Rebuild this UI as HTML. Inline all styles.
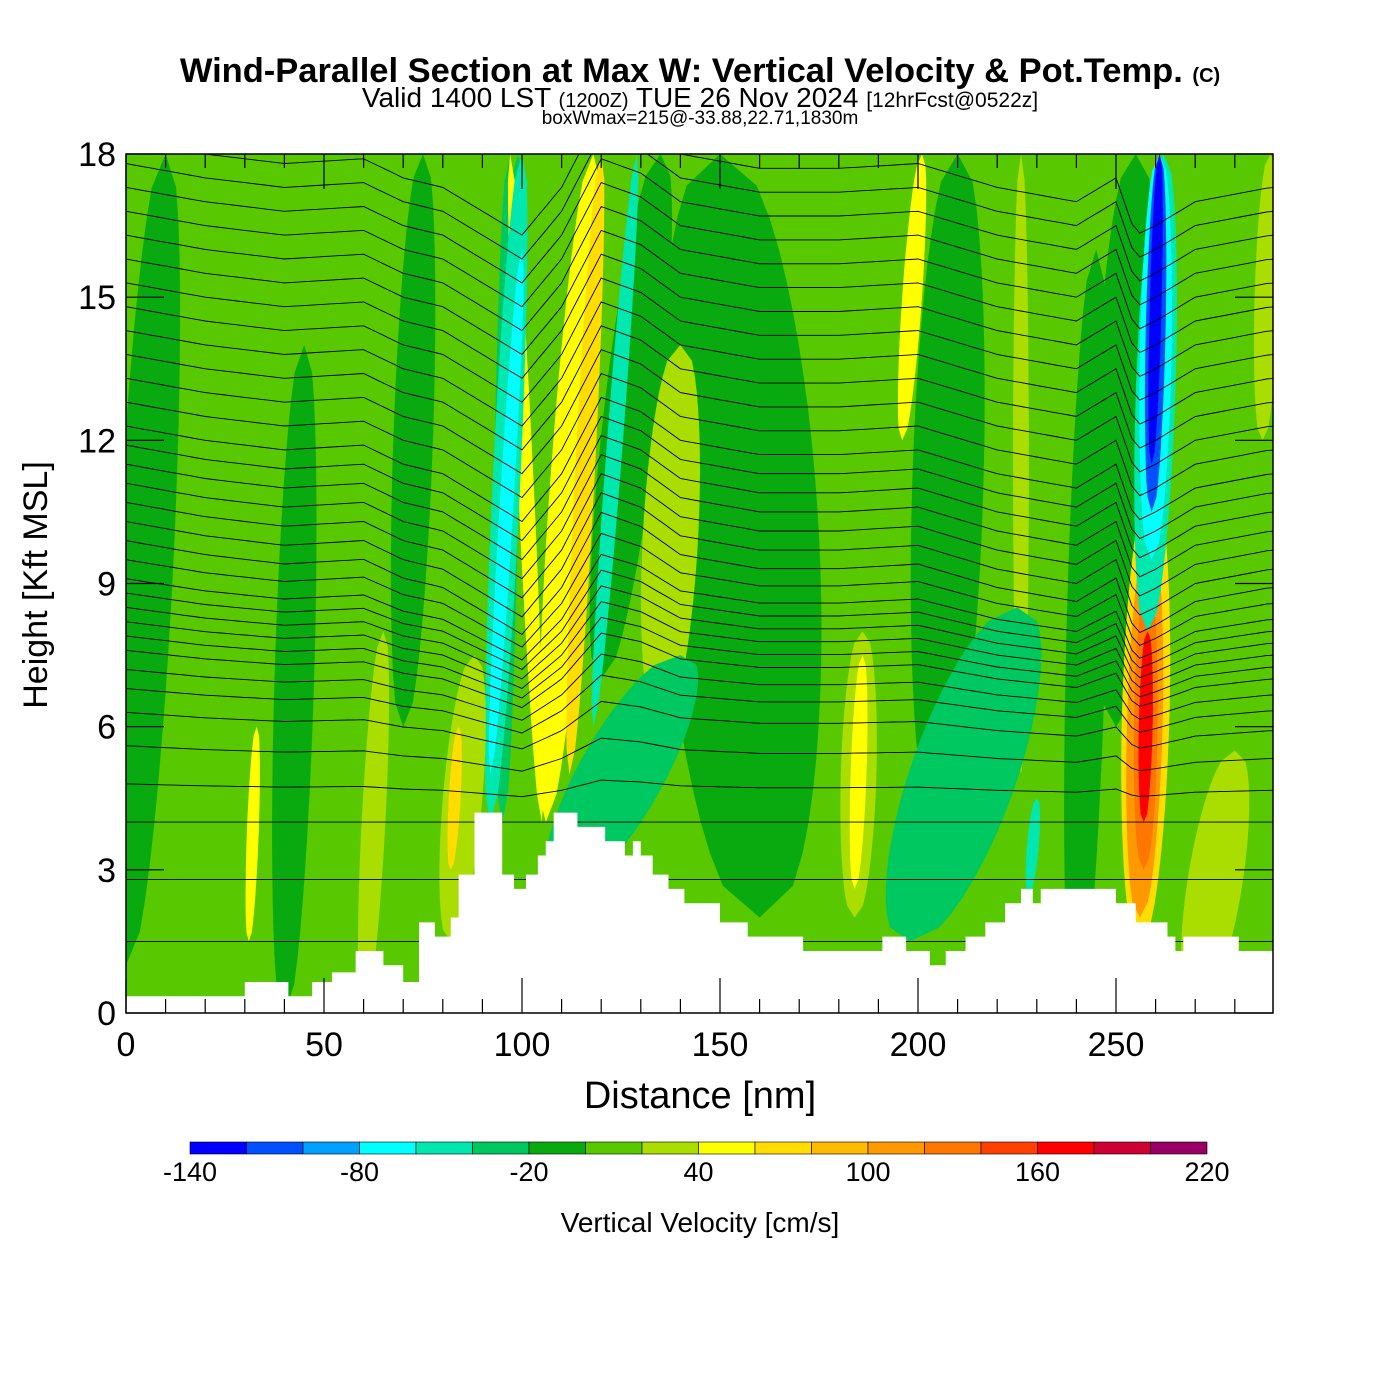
<!DOCTYPE html>
<html><head><meta charset="utf-8">
<style>
body{margin:0;background:#fff;}
svg{display:block;font-family:"Liberation Sans",sans-serif;}
</style></head>
<body>
<svg id="chart" width="1400" height="1400" viewBox="0 0 1400 1400">
<defs><clipPath id="plotclip"><rect x="126" y="154" width="1147" height="859"/></clipPath></defs>
<text x="700" y="82" text-anchor="middle" font-size="34.5" font-weight="bold">Wind-Parallel Section at Max W: Vertical Velocity &amp; Pot.Temp. <tspan font-size="20">(C)</tspan></text>
<text x="700" y="107" text-anchor="middle" font-size="28">Valid 1400 LST <tspan font-size="20">(1200Z)</tspan> TUE 26 Nov 2024 <tspan font-size="21">[12hrFcst@0522z]</tspan></text>
<text x="700" y="124" text-anchor="middle" font-size="19">boxWmax=215@-33.88,22.71,1830m</text>
<g id="plot" clip-path="url(#plotclip)">
<rect x="126" y="154" width="1147" height="859" fill="#58c800"/>
<g id="fills"></g><g id="contours"></g><g id="terrain"></g>
</g>
<rect x="126" y="154" width="1147" height="859" fill="none" stroke="#000" stroke-width="1.5"/>
<g id="axes"></g>
<g id="cbar"></g>
<text x="700" y="1108" text-anchor="middle" font-size="38">Distance [nm]</text>
<text transform="translate(47,585) rotate(-90)" text-anchor="middle" font-size="34">Height [Kft MSL]</text>
<text x="700" y="1232" text-anchor="middle" font-size="28">Vertical Velocity [cm/s]</text>
</svg>
<script>
// ---- data ----
const xTicks=[0,50,100,150,200,250];
const yTicks=[0,3,6,9,12,15,18];
const cbLevels=[-140,-120,-100,-80,-60,-40,-20,0,20,40,60,80,100,120,140,160,180,200,220];
const cbLabels=[-140,-80,-20,40,100,160,220];
const cbColors=["#0000ff","#0050ff","#00a0ff","#00ffff","#00e8b0","#00c860","#08aa10","#58c800","#aadd00","#ffff00","#ffdd00","#ffbb00","#ff9900","#ff7700","#ff4000","#ff0000","#cc0033","#990066"];
// terrain steps: distance (nm) and height (kft)
const terrX=[0,30,41,47,52,58,65,70,74,78,82,84,88,95,98,101,104,106,108,114,121,126,128,130,133,137,141,150,157,171,191,197,203,207,212,217,222,226,229,231,250,255,263,265,267,281,290];
const terrH=[0.35,0.65,0.35,0.65,0.85,1.3,1.0,0.65,1.9,1.6,2.0,2.9,4.2,2.9,2.6,2.9,3.3,3.6,4.2,3.9,3.6,3.3,3.6,3.3,2.9,2.6,2.3,1.9,1.6,1.3,1.6,1.3,1.0,1.3,1.6,1.9,2.3,2.6,2.3,2.6,2.3,1.9,1.6,1.3,1.6,1.3,1.3];
// velocity features: bottom x, bottom h, top x, top h, width (nm), value (cm/s)
const featXb=[0,40,70,160,205,120,240,250,60,95,98,105,92,92,106,112,118,135,184,184,196,226,228,110,198,31,82,82,270,287,256,256,257,257,258,259,259,259];
const featHb=[1,0,6,2,4,7,0,6,0,4,10,4,4,5,4,5,6,6,2,2.6,12,5,2.5,2.5,1.5,1.5,1.5,3,0,12,1.5,2.0,3.0,4.0,8,9.5,10.5,11.5];
const featXt=[10,45,75,150,210,135,245,255,65,97,99,97,100,100,118,120,129,140,186,186,201,226,230,140,225,33,88,84,280,289,259,258.5,258,258,262,261,261,261];
const featHt=[18,14,18,18,18,18,16,18,8,18,18,18,18,16,18,18,18,14,8,7.5,18,18,4.5,7.5,8.5,6,7.5,6,5.5,18,11,10,9,8,18,18,18,18];
const featW=[14,10,10,40,18,14,10,16,6,6,5,4,7,3.5,10,5,4,14,9,4,5,4,3,24,28,3,10,3,14,6,12,9,6,3.5,10,8,5,3];
const featV=[-10,-10,-10,-10,-10,-10,-10,-10,30,-30,-30,45,-45,-70,45,60,-45,30,30,50,45,30,-50,-30,-30,40,30,60,30,30,70,100,130,170,-50,-80,-110,-130];
// potential temperature contours: left-edge heights (kft)
const thetaBase=[1.5,2.8,4.0,4.8,5.6,6.3,6.8,7.2,7.6,7.9,8.2,8.5,8.8,9.1,9.5,9.9,10.3,10.7,11.1,11.5,11.9,12.3,12.8,13.3,13.8,14.3,14.8,15.3,15.8,16.3,16.8,17.3,17.8,18.3];
const dispX=[0,20,40,60,70,80,90,100,110,120,130,140,160,180,200,220,240,250,255,260,270,289];
const dispH=[0,-0.3,-0.5,-0.4,-0.8,-1.0,-1.5,-2.0,-1.0,0.6,0.3,-0.3,-0.6,-0.6,-0.5,-1.0,-1.3,-0.8,-2.0,-1.8,-1.3,-1.0];
// ---- scales ----
const X0=126,X1=1273,Y0=1013,Y1=154;
const sx=d=>X0+d*(198/50);
const sy=h=>Y0-h*((Y0-Y1)/18);
const NS="http://www.w3.org/2000/svg";
function el(t,a,p){const e=document.createElementNS(NS,t);for(const k in a)e.setAttribute(k,a[k]);p.appendChild(e);return e;}
function colorFor(v){for(let i=0;i<cbColors.length;i++){if(v<cbLevels[i+1])return cbColors[i];}return cbColors[cbColors.length-1];}
// features
const fills=document.getElementById('fills');
for(let i=0;i<featV.length;i++){
  const L=[],R=[],n=24;
  for(let k=0;k<=n;k++){const t=k/n;
    const cx=featXb[i]+(featXt[i]-featXb[i])*t, h=featHb[i]+(featHt[i]-featHb[i])*t;
    const hw=featW[i]/2*Math.pow(Math.sin(Math.PI*t),0.4);
    L.push(sx(cx-hw).toFixed(1)+","+sy(h).toFixed(1));R.unshift(sx(cx+hw).toFixed(1)+","+sy(h).toFixed(1));}
  const p=el('polygon',{points:L.concat(R).join(" "),fill:colorFor(featV[i])},fills);
  
  
}
// contours
function disp(x){for(let i=0;i<dispX.length-1;i++){if(x<=dispX[i+1]){const f=(x-dispX[i])/(dispX[i+1]-dispX[i]);return dispH[i]+f*(dispH[i+1]-dispH[i]);}}return dispH[dispH.length-1];}
const cg=document.getElementById('contours');
thetaBase.forEach((b,j)=>{
  const s=Math.min(1,Math.max(0,(b-4)/6));
  let pts=[];for(let x=0;x<=290;x+=2){pts.push(sx(x).toFixed(1)+","+sy(b+disp(x)*s).toFixed(1));}
  const pl=el('polyline',{points:pts.join(" "),fill:"none",stroke:"#000","stroke-width":0.9},cg);
  
  
});
// terrain
let tp=[sx(0)+","+sy(0)];
for(let i=0;i<terrX.length-1;i++){tp.push(sx(terrX[i])+","+sy(terrH[i]));tp.push(sx(terrX[i+1])+","+sy(terrH[i]));}
tp.push(sx(290)+","+sy(0));
const tr=el('polygon',{points:tp.join(" "),fill:"#fff"},document.getElementById('terrain'));


// axes
const ax=document.getElementById('axes');
for(let d=0;d<=289;d+=10){const major=d%50===0;const L=major?35:14;
  el('line',{x1:sx(d),x2:sx(d),y1:Y0,y2:Y0-L,stroke:"#000","stroke-width":1.2},ax);
  el('line',{x1:sx(d),x2:sx(d),y1:Y1,y2:Y1+L,stroke:"#000","stroke-width":1.2},ax);}
xTicks.forEach(d=>{const t=el('text',{x:sx(d),y:1056,"text-anchor":"middle","font-size":34},ax);t.textContent=d;
  
  });
yTicks.forEach(h=>{
  el('line',{x1:X0,x2:X0+38,y1:sy(h),y2:sy(h),stroke:"#000","stroke-width":1.2},ax);
  el('line',{x1:X1,x2:X1-38,y1:sy(h),y2:sy(h),stroke:"#000","stroke-width":1.2},ax);
  const t=el('text',{x:116,y:sy(h)+12,"text-anchor":"end","font-size":34},ax);t.textContent=h;
  
  });
// colorbar
const cb=document.getElementById('cbar');
const cx=v=>190+(v+140)*(1017/360);
for(let i=0;i<cbColors.length;i++){
  const r=el('rect',{x:cx(cbLevels[i]),y:1142,width:cx(cbLevels[i+1])-cx(cbLevels[i]),height:12,fill:cbColors[i],stroke:"#000","stroke-width":0.6},cb);
  
  }
cbLabels.forEach(v=>{const t=el('text',{x:cx(v),y:1181,"text-anchor":"middle","font-size":27},cb);t.textContent=v;
  
  });
</script>
</body></html>
